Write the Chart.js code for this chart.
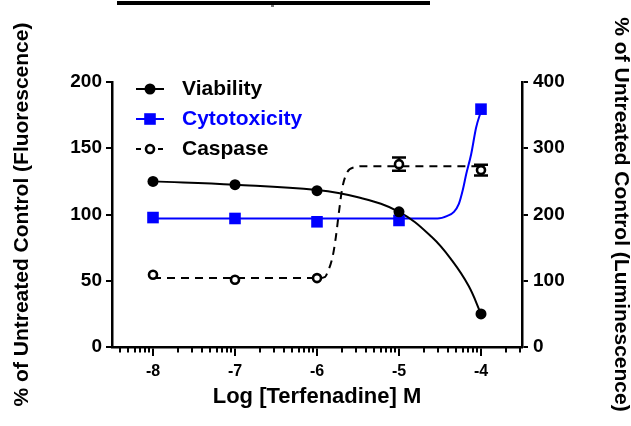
<!DOCTYPE html>
<html><head><meta charset="utf-8">
<script src="https://cdn.jsdelivr.net/npm/chart.js@4"></script>
<style>html,body{margin:0;padding:0;background:#fff}canvas{display:block}</style>
</head><body>
<canvas id="c" width="631" height="426" style="width:631px;height:426px"></canvas>
<script>
// ---- data ----
const concentrations = [-8, -7, -6, -5, -4];          // log [Terfenadine] M
const viability      = [125, 122.5, 118, 102, 25];    // left axis (fluorescence)
const cytotoxicity   = [97.7, 97, 94.5, 95.5, 179.5]; // left axis (fluorescence)
const caspase        = [109, 101.5, 104, 276, 267];   // right axis (luminescence)
const caspaseError   = [0, 0, 0, 10, 8];

// fitted curves
const viabilityFitX = [-8, -7, -6, -5.5, -5, -4.6, -4.35, -4.15, -4];
const viabilityFitY = [125, 122.5, 118.5, 113, 102, 83, 65, 46, 25];
const cytotoxFitX   = [-8, -7, -6, -5, -4.53, -4.41, -4.33, -4.27, -4.22, -4.18, -4.12, -4.06, -4];
const cytotoxFitY   = [97, 97, 97, 97, 97, 99, 102, 108, 119, 130.5, 145.5, 165.5, 178];
const caspaseFitX   = [-8, -7, -6, -5.9, -5.87, -5.81, -5.77, -5.73, -5.69, -5.63, -5.55, -5.4, -5, -4];
const caspaseFitY   = [104, 104, 104, 106, 113, 136, 166, 206, 241, 264, 271, 273, 273, 273];

const xMajorTicks = [-8, -7, -6, -5, -4];
const xMinorTicks = [-8.398, -8.301, -8.222, -8.155, -8.097, -8.046,
  -7.699, -7.523, -7.398, -7.301, -7.222, -7.155, -7.097, -7.046,
  -6.699, -6.523, -6.398, -6.301, -6.222, -6.155, -6.097, -6.046,
  -5.699, -5.523, -5.398, -5.301, -5.222, -5.155, -5.097, -5.046,
  -4.699, -4.523, -4.398, -4.301, -4.222, -4.155, -4.097, -4.046,
  -3.699, -3.523];
const leftTicks  = [0, 50, 100, 150, 200];
const rightTicks = [0, 100, 200, 300, 400];
const seriesNames = ['Viability', 'Cytotoxicity', 'Caspase'];
const xTitle = 'Log [Terfenadine] M';
const leftTitle = '% of Untreated Control (Fluorescence)';
const rightTitle = '% of Untreated Control (Luminescence)';

// ---- styling ----
const FONT = "'Liberation Sans', Arial, Helvetica, sans-serif";
const BLUE = '#0000ff';
const DASH = [8, 6];

const pts = (xs, ys) => xs.map((x, i) => ({x: x, y: ys[i]}));

const datasets = [
  {label: seriesNames[0], data: pts(concentrations, viability), yAxisID: 'y', showLine: false,
   pointStyle: 'circle', pointRadius: 5.5, pointBackgroundColor: '#000', pointBorderColor: '#000', pointBorderWidth: 0},
  {label: seriesNames[1], data: pts(concentrations, cytotoxicity), yAxisID: 'y', showLine: false,
   pointStyle: 'rect', pointRadius: 8.2, pointBackgroundColor: BLUE, pointBorderColor: BLUE, pointBorderWidth: 0},
  {label: seriesNames[2], data: pts(concentrations, caspase), yAxisID: 'y2', showLine: false,
   pointStyle: 'circle', pointRadius: 4, pointBackgroundColor: '#fff', pointBorderColor: '#000', pointBorderWidth: 2.6},
  {label: 'fitV', data: pts(viabilityFitX, viabilityFitY), yAxisID: 'y', showLine: true, pointRadius: 0,
   borderColor: '#000', borderWidth: 2, tension: 0.4, fill: false},
  {label: 'fitC', data: pts(cytotoxFitX, cytotoxFitY), yAxisID: 'y', showLine: true, pointRadius: 0,
   borderColor: BLUE, borderWidth: 2, cubicInterpolationMode: 'monotone', fill: false},
  {label: 'fitK', data: pts(caspaseFitX, caspaseFitY), yAxisID: 'y2', showLine: true, pointRadius: 0,
   borderColor: '#000', borderWidth: 2, borderDash: DASH, cubicInterpolationMode: 'monotone', fill: false}
];

const topBar = {
  id: 'topBar',
  beforeDraw(chart) {
    const ctx = chart.ctx;
    ctx.save();
    ctx.fillStyle = '#000';
    ctx.fillRect(117, 1, 313, 4);
    ctx.fillStyle = '#777';
    ctx.fillRect(271, 5, 3, 2);
    ctx.restore();
  }
};

const minorTicks = {
  id: 'minorTicks',
  afterDraw(chart) {
    const ctx = chart.ctx, xs = chart.scales.x, y0 = chart.chartArea.bottom;
    ctx.save();
    ctx.strokeStyle = '#000';
    ctx.lineWidth = 2;
    ctx.beginPath();
    xMinorTicks.forEach(v => {
      const px = Math.round(xs.getPixelForValue(v));
      ctx.moveTo(px, y0);
      ctx.lineTo(px, y0 + 5.5);
    });
    ctx.stroke();
    ctx.restore();
  }
};

const errorBars = {
  id: 'errorBars',
  beforeDatasetsDraw(chart) {
    const ctx = chart.ctx, xs = chart.scales.x, ys = chart.scales.y2;
    ctx.save();
    ctx.strokeStyle = '#000';
    ctx.lineWidth = 2.5;
    concentrations.forEach((c, i) => {
      const e = caspaseError[i];
      if (!e) return;
      const px = xs.getPixelForValue(c);
      const top = ys.getPixelForValue(caspase[i] + e);
      const bot = ys.getPixelForValue(caspase[i] - e);
      ctx.beginPath();
      ctx.moveTo(px, top); ctx.lineTo(px, bot);
      ctx.moveTo(px - 7, top); ctx.lineTo(px + 7, top);
      ctx.moveTo(px - 7, bot); ctx.lineTo(px + 7, bot);
      ctx.stroke();
    });
    ctx.restore();
  }
};

const legendBox = {
  id: 'legendBox',
  afterDraw(chart) {
    const ctx = chart.ctx;
    const x0 = 136, x1 = 164, xm = 150, xt = 182, yStart = 89, dy = 30;
    const colors = ['#000', BLUE, '#000'];
    ctx.save();
    ctx.font = 'bold 21px ' + FONT;
    ctx.textBaseline = 'middle';
    ctx.textAlign = 'left';
    seriesNames.forEach((name, i) => {
      const y = yStart + i * dy;
      ctx.strokeStyle = colors[i];
      ctx.lineWidth = 2;
      ctx.setLineDash(i === 2 ? [5, 6] : []);
      ctx.beginPath(); ctx.moveTo(x0, y); ctx.lineTo(x1, y); ctx.stroke();
      ctx.setLineDash([]);
      const ds = chart.data.datasets[i];
      ctx.fillStyle = ds.pointBackgroundColor;
      ctx.strokeStyle = ds.pointBorderColor;
      ctx.lineWidth = ds.pointBorderWidth;
      ctx.beginPath();
      if (ds.pointStyle === 'rect') {
        const s = Math.SQRT1_2 * ds.pointRadius;
        ctx.rect(xm - s, y - s, 2 * s, 2 * s);
      } else {
        ctx.arc(xm, y, ds.pointRadius, 0, Math.PI * 2);
      }
      ctx.fill();
      if (ds.pointBorderWidth) ctx.stroke();
      ctx.fillStyle = colors[i];
      ctx.fillText(name, xt, y);
    });
    ctx.restore();
  }
};

new Chart(document.getElementById('c'), {
  type: 'scatter',
  data: {datasets: datasets},
  plugins: [topBar, errorBars, minorTicks, legendBox],
  options: {
    responsive: false,
    animation: false,
    devicePixelRatio: 1,
    layout: {padding: {top: 82, left: 0, right: 0, bottom: 0}},
    plugins: {legend: {display: false}, tooltip: {enabled: false}, title: {display: false}},
    scales: {
      x: {
        type: 'linear', position: 'bottom', min: -8.5, max: -3.5,
        afterBuildTicks: s => { s.ticks = xMajorTicks.map(v => ({value: v})); },
        afterFit: s => { s.height = 79; },
        grid: {display: true, drawOnChartArea: false, drawTicks: true, tickLength: 9, tickWidth: 2, tickColor: '#000', color: '#000', lineWidth: 2},
        border: {display: true, color: '#000', width: 2.5},
        ticks: {color: '#000', font: {family: FONT, size: 16, weight: 'bold'}, padding: 6, maxRotation: 0},
        title: {display: true, text: xTitle, color: '#000', font: {family: FONT, size: 22, weight: 'bold'}, padding: {top: 0, bottom: 16}}
      },
      y: {
        type: 'linear', position: 'left', min: 0, max: 200,
        afterBuildTicks: s => { s.ticks = leftTicks.map(v => ({value: v})); },
        afterFit: s => { s.width = 112; },
        grid: {display: true, drawOnChartArea: false, drawTicks: true, tickLength: 6, tickWidth: 2, tickColor: '#000', color: '#000', lineWidth: 2},
        border: {display: true, color: '#000', width: 2.5},
        ticks: {color: '#000', font: {family: FONT, size: 19, weight: 'bold'}, padding: 4},
        title: {display: true, text: leftTitle, color: '#000', font: {family: FONT, size: 21, weight: 'bold'}, padding: {top: 10, bottom: 0}}
      },
      y2: {
        type: 'linear', position: 'right', min: 0, max: 400,
        afterBuildTicks: s => { s.ticks = rightTicks.map(v => ({value: v})); },
        afterFit: s => { s.width = 109; },
        grid: {display: true, drawOnChartArea: false, drawTicks: true, tickLength: 6, tickWidth: 2, tickColor: '#000', color: '#000', lineWidth: 2},
        border: {display: true, color: '#000', width: 2.5},
        ticks: {color: '#000', font: {family: FONT, size: 19, weight: 'bold'}, padding: 5},
        title: {display: true, text: rightTitle, color: '#000', font: {family: FONT, size: 21, weight: 'bold'}, padding: {top: -2, bottom: 0}}
      }
    }
  }
});
</script>
</body></html>
